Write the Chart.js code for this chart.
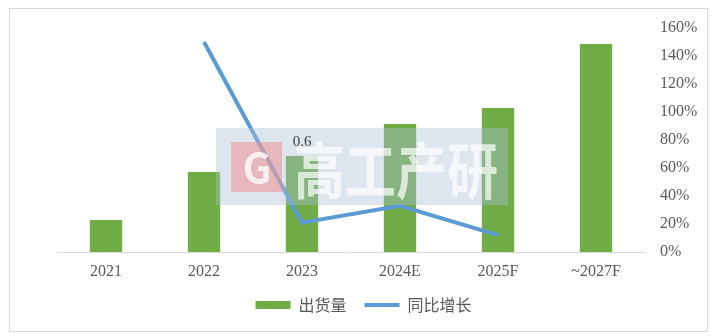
<!DOCTYPE html>
<html>
<head>
<meta charset="utf-8">
<script src="https://cdn.jsdelivr.net/npm/chart.js@4/dist/chart.umd.min.js"></script>
<style>
  html, body { margin: 0; padding: 0; background: #fff; }
  #frame { position: absolute; left: 9px; top: 8px; width: 699px; height: 324px; box-sizing: border-box; border: 1px solid #d9d9d9; }
  #chart { display: block; }
</style>
</head>
<body>
<div id="frame"><canvas id="chart" width="697" height="322"></canvas></div>
<script>
const categories = ['2021', '2022', '2023', '2024E', '2025F', '~2027F'];
const shipments = [0.2, 0.5, 0.6, 0.8, 0.9, 1.3];
const growth = [null, 150, 21, 33, 12, null];
const growthTicks = [0, 20, 40, 60, 80, 100, 120, 140, 160];
const labelIndex = 2;  // only the 2023 bar carries a label

const textGray = '#595959';
const serif = '"Liberation Serif", "Times New Roman", serif';
const cjk = '"Noto Sans CJK SC", "Noto Sans", sans-serif';

// faint publisher watermark over the middle of the plot
const watermark = {
  id: 'watermark',
  afterDraw(chart) {
    const ctx = chart.ctx;
    ctx.save();
    ctx.globalAlpha = 0.4;
    ctx.fillStyle = '#a9bdd6';
    ctx.fillRect(206, 119, 292, 77);
    ctx.globalAlpha = 0.5;
    ctx.fillStyle = '#f08c8c';
    ctx.fillRect(221, 133, 51, 50);
    ctx.globalAlpha = 0.8;
    ctx.fillStyle = '#ffffff';
    ctx.font = 'bold 40px ' + cjk;
    ctx.textAlign = 'center';
    ctx.textBaseline = 'middle';
    ctx.fillText('G', 247, 159);
    ctx.globalAlpha = 0.7;
    ctx.translate(284, 162);
    ctx.scale(1, 1.2);
    ctx.font = 'bold 51px ' + cjk;
    ctx.textAlign = 'left';
    ctx.fillText('高工产研', 0, 0);
    ctx.restore();
  }
};

// one data label on the 2023 bar
const barLabel = {
  id: 'barLabel',
  afterDraw(chart) {
    const bar = chart.getDatasetMeta(1).data[labelIndex];
    const ctx = chart.ctx;
    ctx.save();
    ctx.font = '15px ' + serif;
    ctx.fillStyle = '#404040';
    ctx.textAlign = 'center';
    ctx.textBaseline = 'alphabetic';
    ctx.fillText(String(shipments[labelIndex]), bar.x, bar.y - 10);
    ctx.restore();
  }
};

new Chart(document.getElementById('chart'), {
  data: {
    labels: categories,
    datasets: [
      {
        type: 'line',
        label: '同比增长',
        data: growth,
        yAxisID: 'y1',
        borderColor: '#5b9bd5',
        backgroundColor: '#5b9bd5',
        borderWidth: 4,
        pointRadius: 0,
        pointStyle: 'line',
        tension: 0,
        order: 1
      },
      {
        type: 'bar',
        label: '出货量',
        data: shipments,
        yAxisID: 'y',
        backgroundColor: '#70ad47',
        borderWidth: 0,
        pointStyle: 'rect',
        barPercentage: 0.33,
        categoryPercentage: 1,
        order: 2
      }
    ]
  },
  options: {
    responsive: false,
    animation: false,
    layout: { padding: { left: 10, top: 19, right: 0, bottom: 8 } },
    plugins: {
      tooltip: { enabled: false },
      legend: {
        position: 'bottom',
        reverse: true,
        labels: {
          usePointStyle: true,
          pointStyleWidth: 35,
          boxHeight: 8,
          padding: 18,
          color: textGray,
          font: { family: cjk, size: 16 }
        }
      }
    },
    scales: {
      x: {
        grid: { display: false, drawTicks: false },
        border: { color: '#d9d9d9', width: 1 },
        ticks: { color: textGray, font: { family: serif, size: 16 }, padding: 10 },
        afterFit(scale) { scale.height = 27; }
      },
      y: {
        position: 'left',
        min: 0,
        max: 1.4,
        grid: { display: false, drawTicks: false },
        border: { display: false },
        ticks: { display: false },
        afterFit(scale) { scale.width = 37; scale.paddingTop = 0; scale.paddingBottom = 0; }
      },
      y1: {
        position: 'right',
        min: 0,
        max: 160,
        afterBuildTicks(scale) { scale.ticks = growthTicks.map(v => ({ value: v })); },
        grid: { display: false, drawTicks: false },
        border: { display: false },
        ticks: {
          color: textGray,
          font: { family: serif, size: 16 },
          padding: 15,
          callback: v => v + '%'
        },
        afterFit(scale) { scale.width = 62; scale.paddingTop = 0; scale.paddingBottom = 0; }
      }
    }
  },
  plugins: [watermark, barLabel]
});
</script>
</body>
</html>
